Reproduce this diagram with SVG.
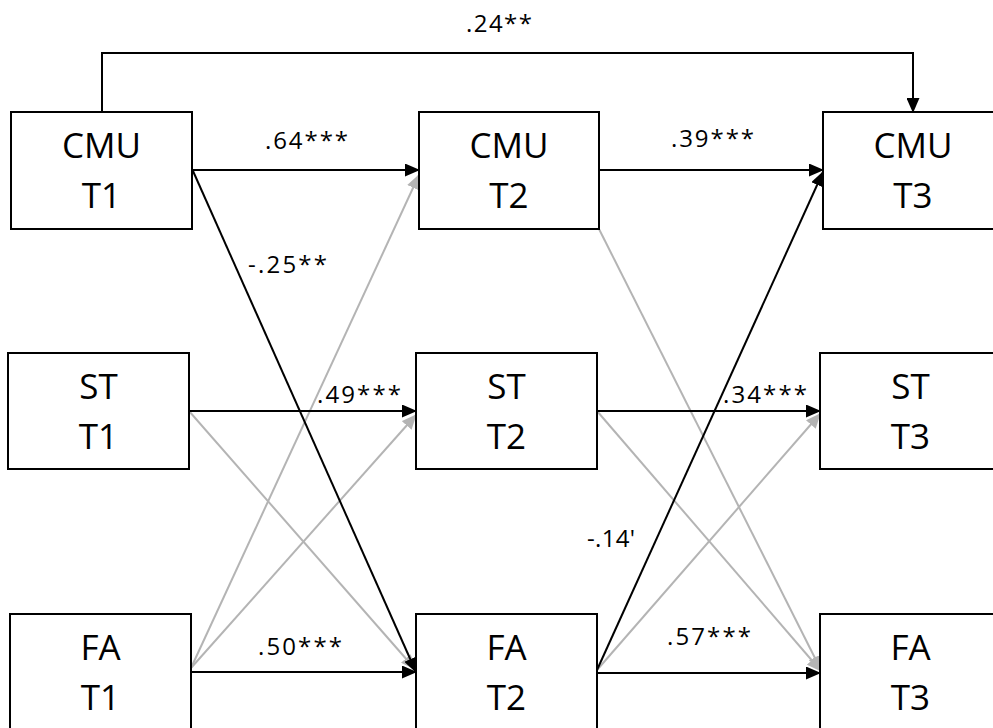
<svg xmlns="http://www.w3.org/2000/svg" width="993" height="728" viewBox="0 0 993 728">
<style>
.box{fill:#fff;stroke:#000;stroke-width:2}
.nt{font-family:"Open Sans","Noto Sans",sans-serif;font-size:35px;fill:#000;text-anchor:middle}
.lb{font-family:"Open Sans","Noto Sans",sans-serif;font-size:24px;fill:#000}
.blk{fill:none;stroke:#000;stroke-width:2}
.gry{fill:none;stroke:#b4b4b4;stroke-width:2}
</style>
<defs>
<marker id="ab" markerUnits="userSpaceOnUse" markerWidth="15" markerHeight="13" refX="14" refY="6.5" orient="auto"><path d="M0,0 L15,6.5 L0,13 z" fill="#000"/></marker>
<marker id="ag" markerUnits="userSpaceOnUse" markerWidth="15" markerHeight="13" refX="14" refY="6.5" orient="auto"><path d="M0,0 L15,6.5 L0,13 z" fill="#b4b4b4"/></marker>
</defs>
<rect width="993" height="728" fill="#fff"/>
<g id="connectors">
<path class="gry" marker-end="url(#ag)" d="M191,668 L419,175"/>
<path class="gry" marker-end="url(#ag)" d="M191,668 L416,415"/>
<path class="gry" marker-end="url(#ag)" d="M189,411 L415,669"/>
<path class="gry" marker-end="url(#ag)" d="M599,229 L821,670"/>
<path class="gry" marker-end="url(#ag)" d="M597,411 L821,671"/>
<path class="gry" marker-end="url(#ag)" d="M597,670 L820,414"/>
<path class="blk" marker-end="url(#ab)" d="M102,112 V53 H913 V112"/>
<path class="blk" marker-end="url(#ab)" d="M192,170 H419"/>
<path class="blk" marker-end="url(#ab)" d="M193,171 L416,672"/>
<path class="blk" marker-end="url(#ab)" d="M189,411 H416"/>
<path class="blk" marker-end="url(#ab)" d="M191,672 H416"/>
<path class="blk" marker-end="url(#ab)" d="M599,170 H823"/>
<path class="blk" marker-end="url(#ab)" d="M597,411 H820"/>
<path class="blk" marker-end="url(#ab)" d="M597,673 H820"/>
<path class="blk" marker-end="url(#ab)" d="M597,670 L823,172"/>
<text class="lb" x="466" y="32" textLength="66" lengthAdjust="spacing">.24**</text>
<text class="lb" x="265" y="149" textLength="83" lengthAdjust="spacing">.64***</text>
<text class="lb" x="671" y="147" textLength="83" lengthAdjust="spacing">.39***</text>
<text class="lb" x="248" y="273" textLength="79" lengthAdjust="spacing">-.25**</text>
<text class="lb" x="317" y="403" textLength="84" lengthAdjust="spacing">.49***</text>
<text class="lb" x="723" y="403" textLength="84" lengthAdjust="spacing">.34***</text>
<text class="lb" x="587" y="547" textLength="48" lengthAdjust="spacing">-.14'</text>
<text class="lb" x="258" y="655" textLength="84" lengthAdjust="spacing">.50***</text>
<text class="lb" x="667" y="645" textLength="84" lengthAdjust="spacing">.57***</text>
</g>
<g id="cmu_t1"><rect class="box" x="11" y="112" width="181" height="117"/><text class="nt" x="101.5" y="158">CMU</text><text class="nt" x="101.5" y="208">T1</text></g>
<g id="cmu_t2"><rect class="box" x="419" y="112" width="180" height="117"/><text class="nt" x="509" y="158">CMU</text><text class="nt" x="509" y="208">T2</text></g>
<g id="cmu_t3"><rect class="box" x="823" y="112" width="181" height="117"/><text class="nt" x="913" y="158">CMU</text><text class="nt" x="913" y="208">T3</text></g>
<g id="st_t1"><rect class="box" x="8" y="353" width="181" height="116"/><text class="nt" x="98.5" y="399">ST</text><text class="nt" x="98.5" y="449">T1</text></g>
<g id="st_t2"><rect class="box" x="416" y="353" width="181" height="116"/><text class="nt" x="506.5" y="399">ST</text><text class="nt" x="506.5" y="449">T2</text></g>
<g id="st_t3"><rect class="box" x="820" y="353" width="181" height="116"/><text class="nt" x="910.5" y="399">ST</text><text class="nt" x="910.5" y="449">T3</text></g>
<g id="fa_t1"><rect class="box" x="10" y="614" width="181" height="117"/><text class="nt" x="100.5" y="660">FA</text><text class="nt" x="100.5" y="710">T1</text></g>
<g id="fa_t2"><rect class="box" x="416" y="614" width="181" height="117"/><text class="nt" x="506.5" y="660">FA</text><text class="nt" x="506.5" y="710">T2</text></g>
<g id="fa_t3"><rect class="box" x="820" y="614" width="181" height="117"/><text class="nt" x="910.5" y="660">FA</text><text class="nt" x="910.5" y="710">T3</text></g>
</svg>
